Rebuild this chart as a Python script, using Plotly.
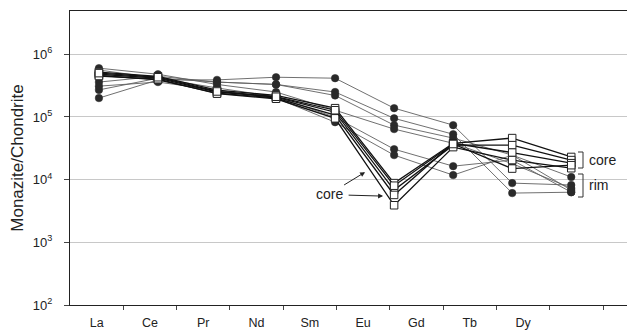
import plotly.graph_objects as go

elements = ["La", "Ce", "Pr", "Nd", "Sm", "Eu", "Gd", "Tb", "Dy"]

# rim analyses (filled circles)
rim_1 = [2.0e5, 3.9e5, 3.9e5, 4.3e5, 4.15e5, 1.38e5, 7.4e4, 8.8e3, 8.2e3]
rim_2 = [2.7e5, 4.15e5, 3.6e5, 3.3e5, 2.5e5, 9.5e4, 5.3e4, 6.1e3, 6.3e3]
rim_3 = [3.6e5, 4.45e5, 3.6e5, 3.3e5, 2.2e5, 7.4e4, 4.6e4, 2.46e4, 1.1e4]
rim_4 = [6.0e5, 4.8e5, 3.3e5, 2.5e5, 1.28e5, 6.4e4, 3.8e4, 1.8e4, 7.3e3]
rim_5 = [5.6e5, 4.15e5, 2.9e5, 2.1e5, 9.9e4, 3.06e4, 1.64e4, 2.05e4, 6.3e3]
rim_6 = [3.1e5, 3.6e5, 2.67e5, 2.0e5, 8.25e4, 2.46e4, 1.18e4, 2.46e4, 6.8e3]

# core analyses (open squares)
core_1 = [5.2e5, 4.45e5, 2.67e5, 2.2e5, 1.38e5, 8.8e3, 3.8e4, 4.6e4, 2.3e4]
core_2 = [4.8e5, 4.15e5, 2.5e5, 2.07e5, 1.19e5, 6.8e3, 3.55e4, 3.55e4, 2.05e4]
core_3 = [4.6e5, 3.9e5, 2.4e5, 2.0e5, 1.07e5, 5.7e3, 3.8e4, 2.7e4, 1.83e4]
core_4 = [4.5e5, 4.0e5, 2.35e5, 1.95e5, 9.5e4, 3.9e3, 3.3e4, 2.05e4, 1.52e4]
core_5 = [5.0e5, 4.3e5, 2.55e5, 2.1e5, 1.28e5, 8.0e3, 3.7e4, 1.5e4, 1.7e4]

rims = [rim_1, rim_2, rim_3, rim_4, rim_5, rim_6]
cores = [core_1, core_2, core_3, core_4, core_5]

ytick_vals = [1e2, 1e3, 1e4, 1e5, 1e6]
ytick_text = ["10<sup>2</sup>", "10<sup>3</sup>", "10<sup>4</sup>", "10<sup>5</sup>", "10<sup>6</sup>"]

FONT = "Liberation Sans, Arial, sans-serif"

fig = go.Figure()
for s in rims:
    fig.add_trace(go.Scatter(
        x=elements, y=s, xaxis="x", yaxis="y", mode="lines+markers",
        line=dict(color="#606060", width=0.9),
        marker=dict(symbol="circle", size=7.5, color="#2a2a2a",
                    line=dict(color="#2a2a2a", width=0.5)),
        showlegend=False, hoverinfo="skip"))
for s in cores:
    fig.add_trace(go.Scatter(
        x=elements, y=s, xaxis="x", yaxis="y", mode="lines+markers",
        line=dict(color="#111111", width=1.3),
        marker=dict(symbol="square", size=7.5, color="white",
                    line=dict(color="#222222", width=1)),
        showlegend=False, hoverinfo="skip"))
# empty trace so that the label axis (x2) is attached to a subplot
fig.add_trace(go.Scatter(x=[], y=[], xaxis="x2", yaxis="y", mode="markers",
                         showlegend=False, hoverinfo="skip"))

def px_x(p):
    return (p - 70) / 565

def px_y(p):
    return (305 - p) / 294

# white patch hiding grid line behind the "rim" label
fig.add_shape(type="rect", xref="paper", yref="paper",
              x0=px_x(576), x1=px_x(617), y0=px_y(186), y1=px_y(178),
              fillcolor="white", line=dict(width=0), layer="between")

# brackets
for top, bot in [(152, 168), (174, 197)]:
    path = "M {a},{t} L {b},{t} L {b},{u} L {a},{u}".format(
        a=px_x(578), b=px_x(583), t=px_y(top), u=px_y(bot))
    fig.add_shape(type="path", xref="paper", yref="paper", path=path,
                  line=dict(color="#333333", width=1))

fig.add_annotation(xref="paper", yref="paper", x=px_x(587), y=px_y(160),
                   text="core", showarrow=False, xanchor="left", yanchor="middle",
                   font=dict(family=FONT, size=14, color="#222"))
fig.add_annotation(xref="paper", yref="paper", x=px_x(587), y=px_y(185),
                   text="rim", showarrow=False, xanchor="left", yanchor="middle",
                   font=dict(family=FONT, size=14, color="#222"))

# "core" label near Eu with two arrows
fig.add_annotation(xref="x", yref="y", x=(365 - 99) / 59, y=2 + (305 - 172) / 62.75,
                   ax=-36, ay=22, text="core", showarrow=True,
                   arrowhead=2, arrowsize=1, arrowwidth=1, arrowcolor="#222",
                   font=dict(family=FONT, size=14, color="#222"))
fig.add_annotation(xref="x", yref="y", x=(383 - 99) / 59, y=2 + (305 - 196) / 62.75,
                   ax=-36, ay=-1, text="", showarrow=True,
                   arrowhead=2, arrowsize=1, arrowwidth=1, arrowcolor="#222")

# the page body has an 8 px default margin: size the figure so that it fills the window
fig.update_layout(
    width=627, height=326,
    margin=dict(l=62, r=0, t=3, b=29, autoexpand=False),
    plot_bgcolor="white", paper_bgcolor="white",
    font=dict(family=FONT, size=12, color="#222"),
    xaxis=dict(
        type="category", categoryorder="array", categoryarray=elements,
        range=[-0.49, 9.08], showticklabels=False, ticks="",
        showgrid=False, zeroline=False,
        showline=True, linecolor="#222", linewidth=1, mirror=True,
    ),
    xaxis2=dict(
        overlaying="x", anchor="y", side="bottom",
        range=[-0.5, 10.1], tickmode="array",
        tickvals=list(range(len(elements))), ticktext=elements,
        ticks="", showgrid=False, zeroline=False, showline=False,
        ticklabelstandoff=8,
        minor=dict(tickmode="array", tickvals=[i + 0.5 for i in range(10)],
                   ticks="outside", ticklen=4, tickcolor="#444", showgrid=False),
        tickfont=dict(family=FONT, size=12.5, color="#222"),
    ),
    yaxis=dict(
        type="log", range=[2, 6.69], tickmode="array",
        tickvals=ytick_vals, ticktext=ytick_text,
        ticks="outside", ticklen=5, tickcolor="#444",
        showgrid=True, gridcolor="#c8c8c8", gridwidth=1,
        showline=True, linecolor="#222", linewidth=1, zeroline=False,
        ticklabelstandoff=9,
        title=dict(text="Monazite/Chondrite", font=dict(family=FONT, size=17, color="#222"),
                   standoff=5),
        tickfont=dict(family=FONT, size=13, color="#222"),
    ),
)

fig.write_html("out.html")
